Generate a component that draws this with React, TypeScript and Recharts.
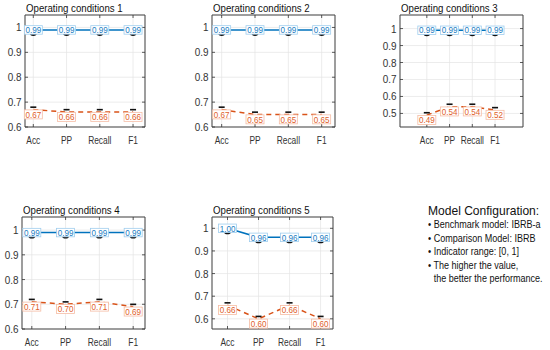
import { CartesianGrid, LabelList, Line, LineChart, ReferenceArea, XAxis, YAxis } from "recharts";

const metrics = ["Acc", "PP", "Recall", "F1"];
const benchmark1 = [0.99, 0.99, 0.99, 0.99];
const comparison1 = [0.67, 0.66, 0.66, 0.66];
const benchmark2 = [0.99, 0.99, 0.99, 0.99];
const comparison2 = [0.67, 0.65, 0.65, 0.65];
const benchmark3 = [0.99, 0.99, 0.99, 0.99];
const comparison3 = [0.49, 0.54, 0.54, 0.52];
const benchmark4 = [0.99, 0.99, 0.99, 0.99];
const comparison4 = [0.71, 0.7, 0.71, 0.69];
const benchmark5 = [1.0, 0.96, 0.96, 0.96];
const comparison5 = [0.66, 0.6, 0.66, 0.6];
const ticksA = [0.6, 0.7, 0.8, 0.9, 1];
const ticksB = [0.5, 0.6, 0.7, 0.8, 0.9, 1];
const notes = [
  "Benchmark model: IBRB-a",
  "Comparison Model: IBRB",
  "Indicator range: [0, 1]",
  "The higher the value,",
];

const FONT = "'Liberation Sans', Arial, sans-serif";
const BLUE = "#0072bd";
const ORANGE = "#d95319";

const panels = [
  { title: "Operating conditions 1", ben: benchmark1, cmp: comparison1, x0: 25, y0: 15, w: 120, h: 112, yDom: [0.6, 1.05], xDom: [0.75, 4.36], yTicks: ticksA },
  { title: "Operating conditions 2", ben: benchmark2, cmp: comparison2, x0: 212, y0: 15, w: 123, h: 112, yDom: [0.6, 1.05], xDom: [0.71, 4.4], yTicks: ticksA },
  { title: "Operating conditions 3", ben: benchmark3, cmp: comparison3, x0: 400, y0: 15, w: 123, h: 112, yDom: [0.42, 1.08], xDom: [-0.18, 5.23], yTicks: ticksB },
  { title: "Operating conditions 4", ben: benchmark4, cmp: comparison4, x0: 22, y0: 217, w: 123, h: 112, yDom: [0.6, 1.053], xDom: [0.71, 4.35], yTicks: ticksA },
  { title: "Operating conditions 5", ben: benchmark5, cmp: comparison5, x0: 212, y0: 217, w: 121, h: 112, yDom: [0.555, 1.05], xDom: [0.5, 4.4], yTicks: ticksA },
];

const BlueDot = (p: any) => {
  if (p.cx == null) return null;
  return <ellipse key={p.index} cx={p.cx} cy={p.cy + 3.6} rx={3.4} ry={2.4} fill="#111" />;
};

const OrangeDot = (p: any) => {
  if (p.cx == null) return null;
  return <rect key={p.index} x={p.cx - 3} y={p.cy - 3.2} width={6} height={1.6} fill="#111" />;
};

const makeLabel = (kind: "ben" | "cmp") => (p: any) => {
  const { x, y, value } = p;
  if (x == null) return null;
  const blue = kind === "ben";
  const cy = blue ? y : y + 4.8;
  const w = 18;
  const hh = blue ? 8.5 : 9;
  return (
    <g>
      <rect x={x - w / 2} y={cy - hh / 2} width={w} height={hh}
        fill="#fff" stroke={blue ? "#9fcdee" : "#f5bca4"} strokeWidth={0.8} />
      <text transform={`translate(${x},${cy + 3.2}) scale(0.9,1)`} textAnchor="middle" fontSize={9} fontFamily={FONT}
        fill={blue ? "#1a7cc2" : "#e0602a"}>{Number(value).toFixed(2)}</text>
    </g>
  );
};

function Panel({ cfg }: { cfg: (typeof panels)[number] }) {
  const yw = 25, mt = 5, mr = 5, xh = 22;
  const data = metrics.map((m, i) => ({ x: i + 1, name: m, ben: cfg.ben[i], cmp: cfg.cmp[i] }));

  const yTick = (p: any) => (
    <g>
      <text transform={`translate(${p.x - 3.5},${p.y + 4}) scale(0.9,1)`} textAnchor="end" fontSize={11} fontFamily={FONT} fill="#333">
        {p.payload.value}
      </text>
      <line x1={p.x} x2={p.x + 3} y1={p.y} y2={p.y} stroke="#333" strokeWidth={0.8} />
      <line x1={p.x + cfg.w - 3} x2={p.x + cfg.w} y1={p.y} y2={p.y} stroke="#333" strokeWidth={0.8} />
    </g>
  );
  const xTick = (p: any) => (
    <g>
      <text transform={`translate(${p.x},${p.y + 17}) scale(0.8,1)`} textAnchor="middle" fontSize={10.5} fontFamily={FONT} fill="#333">
        {metrics[p.payload.value - 1]}
      </text>
      <line x1={p.x} x2={p.x} y1={p.y} y2={p.y - 3} stroke="#333" strokeWidth={0.8} />
      <line x1={p.x} x2={p.x} y1={p.y - cfg.h} y2={p.y - cfg.h + 3} stroke="#333" strokeWidth={0.8} />
    </g>
  );

  return (
    <div style={{ position: "absolute", left: cfg.x0 - yw, top: cfg.y0 - mt }}>
      <div style={{
        position: "absolute", left: yw + 1, top: -8, whiteSpace: "nowrap",
        fontFamily: FONT, fontSize: 11.5, color: "#111", lineHeight: "12px",
        transform: "scaleX(0.84)", transformOrigin: "left center",
      }}>{cfg.title}</div>
      <LineChart width={cfg.w + yw + mr} height={cfg.h + mt + xh} data={data}
        margin={{ top: mt, right: mr, left: 0, bottom: 0 }}>
        <CartesianGrid stroke="#e4e4e4" strokeWidth={0.7} />
        <XAxis dataKey="x" type="number" domain={cfg.xDom} ticks={[1, 2, 3, 4]} allowDataOverflow
          height={xh} tickSize={0} tickMargin={0} tickLine={false} axisLine={false} tick={xTick} interval={0} />
        <YAxis type="number" domain={cfg.yDom} ticks={cfg.yTicks} allowDataOverflow
          width={yw} tickSize={0} tickMargin={0} tickLine={false} axisLine={false} tick={yTick} interval={0} />
        <ReferenceArea x1={cfg.xDom[0]} x2={cfg.xDom[1]} y1={cfg.yDom[0]} y2={cfg.yDom[1]}
          fill="none" fillOpacity={0} stroke="#444" strokeWidth={1} ifOverflow="extendDomain" />
        <Line dataKey="ben" stroke={BLUE} strokeWidth={1.5} dot={BlueDot} activeDot={false} isAnimationActive={false}>
          <LabelList dataKey="ben" content={makeLabel("ben")} />
        </Line>
        <Line dataKey="cmp" stroke={ORANGE} strokeWidth={1.5} strokeDasharray="5 4" dot={OrangeDot} activeDot={false} isAnimationActive={false}>
          <LabelList dataKey="cmp" content={makeLabel("cmp")} />
        </Line>
      </LineChart>
    </div>
  );
}

export default function App() {
  return (
    <div style={{ position: "absolute", left: 0, top: 0, width: 550, height: 350, background: "#fff", overflow: "hidden" }}>
      {panels.map((cfg) => <Panel key={cfg.title} cfg={cfg} />)}
      <div style={{
        position: "absolute", left: 428, top: 204, fontFamily: FONT, color: "#111", whiteSpace: "nowrap",
        transform: "scaleX(0.82)", transformOrigin: "left top",
      }}>
        <div style={{ fontSize: 13, lineHeight: "14px", transform: "scaleX(1.13)", transformOrigin: "left center" }}>Model Configuration:</div>
        {notes.map((n) => (
          <div key={n} style={{ fontSize: 11, lineHeight: "13.5px" }}>• {n}</div>
        ))}
        <div style={{ fontSize: 11, lineHeight: "13.5px", paddingLeft: 7 }}>the better the performance.</div>
      </div>
    </div>
  );
}
